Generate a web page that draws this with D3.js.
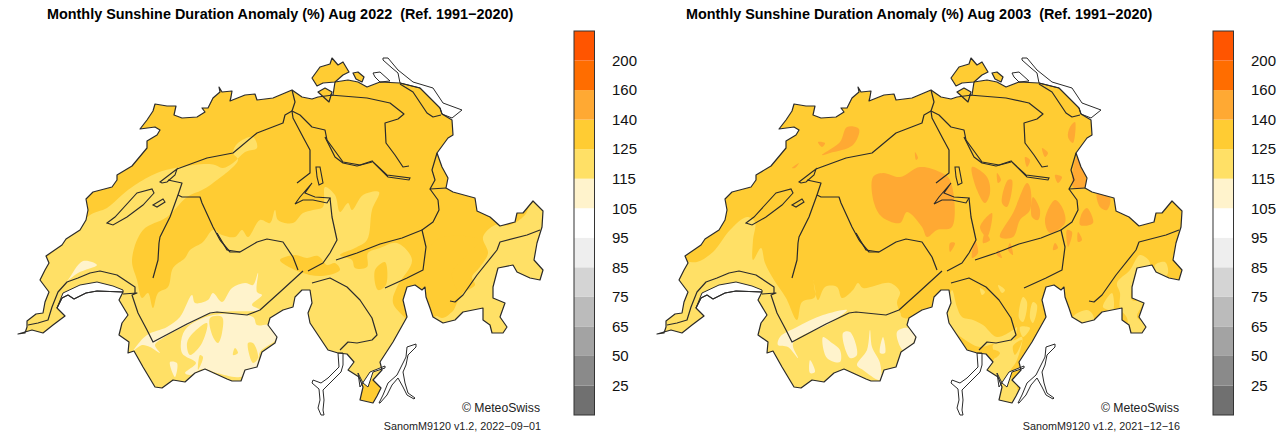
<!DOCTYPE html>
<html>
<head>
<meta charset="utf-8">
<script src="https://cdn.jsdelivr.net/npm/d3@7"></script>
<style>
body { margin: 0; background: #fff; }
text { font-family: "Liberation Sans", Arial, sans-serif; white-space: pre; }
</style>
</head>
<body>
<div id="chart"></div>
<script>
// colour classes, bottom to top of the legend
var levelLabels = [25, 50, 65, 75, 85, 95, 105, 115, 125, 140, 160, 200];
var levelColors = ["#707070", "#8a8a8a", "#a3a3a3", "#bbbbbb", "#d4d4d4", "#eeeeee", "#ffffff",
                   "#fff3cc", "#ffe066", "#ffcc33", "#ffa933", "#ff6d00", "#ff5500"];

// map outlines in map units
var country = [[18,334],[25,333],[27,327],[27,321],[36,314],[43,313],[45,302],[49,292],[40,280],[45,270],[49,263],[46,256],
  [62,245],[66,239],[80,230],[86,220],[88,210],[86,199],[93,192],[112,187],[117,180],[117,175],[132,166],[147,148],[147,141],
  [157,135],[160,130],[155,127],[140,129],[147,120],[153,111],[155,104],[167,106],[176,106],[174,115],[182,118],[197,117],
  [205,112],[202,108],[208,108],[213,98],[220,92],[219,87],[222,92],[232,91],[231,97],[230,101],[245,95],[255,94],[257,100],
  [273,98],[292,90],[302,97],[312,99],[318,97],[333,95],[335,82],[348,80],[358,82],
  [367,87],[380,82],[400,83],[420,88],[440,108],[442,114],[452,120],[453,135],[448,138],[437,153],[442,167],[448,178],[446,188],
  [453,192],[475,198],[477,211],[490,217],[500,226],[515,222],[517,213],[523,213],[533,201],[543,211],[542,227],[537,243],
  [534,260],[543,270],[540,280],[530,278],[517,272],[513,265],[498,268],[493,287],[493,298],[505,303],[500,317],[507,327],
  [503,333],[492,333],[490,325],[483,320],[483,308],[463,312],[455,320],[443,323],[433,317],[430,308],[426,297],[425,287],
  [422,290],[415,285],[407,287],[403,300],[407,317],[393,342],[380,362],[382,370],[373,380],[381,388],[377,396],[373,403],
  [360,400],[363,387],[359,377],[348,370],[354,362],[347,354],[338,353],[328,350],[310,323],[308,313],[312,303],[310,290],
  [302,290],[295,297],[293,307],[283,310],[270,318],[268,325],[277,337],[275,343],[262,352],[257,367],[245,370],[241,381],
  [232,381],[227,379],[205,369],[195,373],[185,382],[173,380],[162,388],[155,387],[143,367],[134,351],[128,353],[129,342],
  [119,335],[122,323],[128,315],[119,300],[123,292],[97,291],[86,293],[74,299],[68,295],[62,298],[57,308],[65,316],[53,325],
  [43,333],[32,330]];

var exclaves = [
  [[312,78],[320,67],[330,64],[332,58],[338,65],[343,62],[349,72],[343,75],[335,82],[323,83],[317,86]],
  [[353,73],[358,72],[364,77],[362,82],[356,79]],
  [[318,92],[325,88],[332,92],[329,102]]
];

var whiteLakes = [
  [[57,308],[63,293],[80,285],[97,282],[113,286],[123,290],[123,292],[97,291],[86,293],[74,299],[68,295],[62,298]],
  [[383,58],[388,58],[398,70],[413,82],[433,88],[443,103],[462,110],[452,118],[442,114],[440,108],[420,88],[400,83],[398,73],[392,68],[383,60]],
  [[373,73],[380,72],[390,81],[380,82],[375,77]],
  [[338,353],[339,367],[328,378],[321,383],[313,380],[312,383],[319,389],[320,400],[318,408],[321,415],[324,415],[323,410],[324,400],[323,390],[330,383],[341,372],[343,365],[343,353]],
  [[358,373],[360,387],[370,372],[385,366],[385,368],[373,372],[368,387],[363,383]],
  [[407,347],[406,357],[402,365],[397,375],[388,383],[383,395],[379,403],[380,403],[387,395],[392,385],[398,378],[403,387],[407,395],[414,399],[415,398],[408,393],[405,383],[403,372],[406,365],[408,355],[416,347],[416,344]]
];

var innerLakes = [
  [[107,223],[115,217],[137,193],[152,189],[154,193],[143,205],[127,217],[113,225]],
  [[153,205],[163,199],[165,202],[157,207]],
  [[160,182],[173,172],[177,169],[175,175],[167,182],[162,183]],
  [[316,167],[320,167],[323,183],[319,185],[317,177]],
  [[295,204],[300,197],[312,183],[305,193],[315,197],[330,198],[327,203],[313,200],[303,200]],
  [[372,161],[387,175],[410,178],[409,180],[388,177],[374,163]]
];

var borders = [
  [[135,293],[135,287],[117,275],[100,271],[90,273],[78,278],[67,282],[58,292],[52,307],[48,320],[38,323],[28,325]],
  [[123,294],[137,293],[132,295],[138,313],[147,330],[153,342],[187,324],[210,313],[217,312],[247,315],[260,310],[280,292],[303,271]],
  [[177,169],[207,158],[233,153],[257,133],[283,123],[285,115],[292,111],[300,115],[312,127],[325,130],[327,140],[343,162],[360,165],[372,161]],
  [[325,137],[335,157],[343,163],[357,166],[372,162]],
  [[292,90],[295,102],[292,111],[293,118],[303,137],[310,150],[310,173],[297,183]],
  [[330,198],[332,217],[337,240],[330,253],[323,263],[308,271]],
  [[330,95],[367,98],[390,103],[404,114],[398,119],[385,123],[386,143],[395,155],[403,167],[409,166]],
  [[400,84],[413,92],[427,113],[433,117],[441,115]],
  [[437,153],[432,170],[435,180],[430,189],[446,188]],
  [[430,189],[438,200],[439,210],[433,222],[422,230],[426,247],[423,270],[407,278],[385,288]],
  [[336,260],[357,253],[380,244],[402,238],[422,230]],
  [[540,230],[527,235],[500,242],[497,250],[477,275],[463,295],[455,302],[450,301]],
  [[312,283],[330,278],[347,287],[360,300],[372,318],[377,335],[372,340],[357,343],[348,342],[340,350]],
  [[217,233],[227,250],[240,252],[257,242],[267,239],[283,242],[293,257],[298,270]],
  [[220,240],[230,252],[240,252]],
  [[168,180],[182,183],[178,195],[182,197],[200,197],[202,203],[213,227],[220,240]],
  [[178,195],[170,217],[160,237],[159,243],[158,260],[153,278]]
];

// contour patches, drawn in this order over the base colour
var lightPatches2022 = [
  [[66,240],[90,215],[107,208],[122,195],[135,185],[157,173],[175,168],[207,164],[215,165],[223,168],[233,163],[245,152],[257,148],[253,137],[238,143],[233,153],[238,160],[213,183],[202,190],[187,197],[167,217],[143,230],[132,260],[137,280],[142,298],[148,293],[153,308],[158,293],[168,287],[173,268],[185,258],[190,250],[203,242],[213,230],[222,235],[235,237],[242,230],[248,237],[260,220],[270,223],[275,210],[278,220],[293,223],[303,213],[313,210],[323,207],[325,187],[335,195],[340,212],[348,203],[352,210],[363,195],[379,192],[372,210],[367,240],[355,248],[340,255],[352,260],[355,268],[367,267],[368,253],[380,248],[397,243],[412,260],[397,287],[393,303],[420,340],[280,410],[20,350],[10,300]],
  [[483,237],[495,225],[510,225],[525,215],[533,200],[560,200],[560,345],[440,345],[434,318],[452,312],[457,303],[463,293],[475,285],[472,277],[480,267],[488,253]]
];
var paleBases2022 = [
  [[68,280],[83,261],[97,265],[78,273],[65,283]],
  [[135,348],[147,335],[167,327],[180,317],[192,295],[195,303],[208,300],[213,293],[222,302],[232,288],[245,283],[253,285],[258,273],[257,292],[262,295],[252,305],[260,310],[213,313],[187,325],[163,338],[155,345],[160,353],[150,347],[142,345],[133,351]],
  [[185,330],[213,315],[253,317],[257,325],[270,325],[277,338],[260,352],[257,367],[240,377],[217,373],[203,369],[190,375],[185,373],[196,363],[182,353]],
  [[170,362],[177,363],[175,377]]
];
var lightOverPale2022 = [
  [[210,318],[222,317],[222,333],[218,343],[213,337]],
  [[193,333],[207,323],[202,343],[190,355],[187,343]],
  [[248,343],[253,343],[258,358],[253,363]],
  [[235,348],[238,353],[233,355]],
  [[200,355],[203,357],[198,370]]
];
var darkOverLight2022 = [
  [[280,260],[295,255],[307,258],[318,256],[327,265],[335,263],[340,270],[322,276],[300,272]],
  [[375,270],[385,262],[386,285],[378,290]],
  [[436,240],[480,240],[470,252],[452,273],[457,293],[453,310],[442,318],[432,310],[425,280]]
];

var lightPatches2003 = [
  [[108,217],[116,222],[114,240],[114,260],[122,248],[126,263],[135,280],[147,298],[158,320],[163,302],[176,297],[174,280],[179,300],[186,287],[198,287],[203,298],[214,290],[219,283],[224,288],[251,283],[261,292],[258,303],[266,318],[278,315],[290,325],[300,400],[40,400],[10,340],[10,290],[30,275],[44,262],[58,262],[74,252],[91,230]],
  [[313,290],[318,307],[323,317],[334,320],[344,325],[358,337],[374,330],[378,327],[373,342],[358,343],[341,347],[331,343],[311,327],[308,317]],
  [[354,345],[376,340],[383,337],[378,360],[371,373],[378,387],[378,410],[359,405],[348,370],[356,357]],
  [[384,297],[388,302],[384,322],[380,318]],
  [[394,302],[398,305],[394,323],[391,318]],
  [[341,288],[346,292],[343,295]],
  [[359,285],[366,290],[363,293]],
  [[381,327],[391,328],[384,337]],
  [[434,317],[448,310],[454,315],[454,325],[438,325]],
  [[464,307],[473,293],[474,310]],
  [[478,283],[491,270],[501,255],[511,263],[494,285],[493,300],[504,302],[498,317],[510,327],[503,336],[491,336],[488,318],[481,308],[481,293]],
  [[516,265],[526,262],[529,273],[524,278],[518,273]]
];
var basePatches2003 = [
  [[374,346],[383,340],[376,355]],
  [[354,350],[361,353],[356,358]],
  [[266,306],[274,310],[270,318],[262,316]]
];
var palePatches2003 = [
  [[141,337],[158,327],[184,315],[208,310],[191,323],[154,343],[159,358],[149,347],[139,345]],
  [[184,337],[188,358],[201,362],[201,350],[193,343]],
  [[204,333],[211,332],[218,355],[211,358]],
  [[231,330],[233,347],[241,363],[241,380],[224,370],[218,365],[228,350]],
  [[244,337],[246,353],[241,353]],
  [[258,332],[269,328],[276,337],[271,347],[264,350]],
  [[171,360],[176,372],[171,373]]
];
var orangePatches2003 = [
  [[234,177],[244,173],[261,177],[281,167],[301,172],[311,180],[313,227],[298,230],[288,237],[283,227],[268,212],[261,223],[243,217],[235,203]],
  [[183,155],[201,142],[208,127],[220,129],[214,145],[191,153]],
  [[179,142],[186,143],[183,147]],
  [[153,168],[160,163],[156,168]],
  [[276,152],[279,158],[277,160]],
  [[333,167],[348,177],[351,193],[346,203],[338,190]],
  [[358,173],[362,180],[359,183]],
  [[369,180],[373,180],[368,207],[363,203]],
  [[388,183],[391,187],[391,210],[381,220],[374,237],[361,237],[374,213]],
  [[394,197],[401,210],[399,220],[393,217]],
  [[406,220],[416,200],[423,207],[426,223],[411,233]],
  [[416,175],[423,177],[419,183]],
  [[403,148],[409,153],[406,157]],
  [[386,157],[391,160],[388,167]],
  [[431,127],[436,122],[434,143],[429,137]],
  [[438,157],[446,173],[446,187],[434,187]],
  [[458,193],[471,198],[468,210],[461,207]],
  [[448,208],[454,223],[441,225],[443,213]],
  [[341,227],[353,213],[348,237]],
  [[311,243],[316,243],[311,252]],
  [[336,240],[339,253],[333,258]],
  [[346,233],[351,240],[344,243]],
  [[371,243],[374,255],[369,250]],
  [[416,243],[419,248],[414,250]],
  [[428,230],[433,232],[429,247]],
  [[439,232],[443,240],[439,242]],
  [[359,250],[363,258],[358,255]]
];

// colour index: 7 pale, 8 light, 9 base, 10 orange
var panels = [
  { left: 0, title: "Monthly Sunshine Duration Anomaly (%) Aug 2022  (Ref. 1991\u22122020)",
    stamp: "SanomM9120 v1.2, 2022\u221209\u221201",
    layers: [[8, lightPatches2022], [9, darkOverLight2022], [7, paleBases2022], [8, lightOverPale2022]] },
  { left: 639, title: "Monthly Sunshine Duration Anomaly (%) Aug 2003  (Ref. 1991\u22122020)",
    stamp: "SanomM9120 v1.2, 2021\u221212\u221216",
    layers: [[8, lightPatches2003], [9, basePatches2003], [7, palePatches2003], [10, orangePatches2003]] }
];

var svg = d3.select("#chart").append("svg").attr("width", 1280).attr("height", 438);
var y = d3.scaleLinear().domain([0, 438]).range([0, 438]);
var land = [country].concat(exclaves);

panels.forEach(function(p, i) {
    var x = d3.scaleLinear().domain([0, 640]).range([p.left, p.left + 640]);
    var line = d3.line().x(function(d) { return x(d[0]); }).y(function(d) { return y(d[1]); });
    var closed = d3.line().x(function(d) { return x(d[0]); }).y(function(d) { return y(d[1]); }).curve(d3.curveLinearClosed);
    var smooth = d3.line().x(function(d) { return x(d[0]); }).y(function(d) { return y(d[1]); }).curve(d3.curveCatmullRomClosed.alpha(0.5));
    var g = svg.append("g");

    g.append("clipPath").attr("id", "clip" + i).selectAll("path").data(land).enter().append("path").attr("d", closed);

    g.append("text").attr("x", p.left + 47).attr("y", 19)
        .attr("font-size", 14.4).attr("font-weight", "bold").text(p.title);

    var map = g.append("g").attr("clip-path", "url(#clip" + i + ")");
    map.selectAll(null).data(land).enter().append("path").attr("d", closed).attr("fill", levelColors[9]);
    p.layers.forEach(function(layer) {
        map.selectAll(null).data(layer[1]).enter().append("path")
            .attr("d", function(d) { return smooth(d); })
            .attr("fill", levelColors[layer[0]]);
    });

    g.selectAll(null).data(whiteLakes).enter().append("path")
        .attr("d", closed).attr("fill", "#fff").attr("stroke", "#2b2b2b").attr("stroke-width", 1);
    g.selectAll(null).data(land).enter().append("path").attr("d", closed).attr("fill", "none")
        .attr("stroke", "#2b2b2b").attr("stroke-width", 1.2).attr("stroke-linejoin", "round");
    g.selectAll(null).data(innerLakes).enter().append("path")
        .attr("d", closed).attr("fill", "none").attr("stroke", "#2b2b2b").attr("stroke-width", 1.1);
    g.selectAll(null).data(borders).enter().append("path")
        .attr("d", line).attr("fill", "none").attr("stroke", "#2b2b2b").attr("stroke-width", 1.2)
        .attr("stroke-linejoin", "round");

    // legend bar
    var barX = p.left + 574;
    var barScale = d3.scaleLinear().domain([0, levelColors.length]).range([415, 31]);
    g.selectAll(null).data(levelColors).enter().append("rect")
        .attr("x", barX).attr("width", 20.5)
        .attr("y", function(d, k) { return barScale(k + 1); })
        .attr("height", function(d, k) { return barScale(k) - barScale(k + 1); })
        .attr("fill", function(d) { return d; });
    g.append("rect").attr("x", barX).attr("y", barScale(levelColors.length)).attr("width", 20.5)
        .attr("height", barScale(0) - barScale(levelColors.length))
        .attr("fill", "none").attr("stroke", "#333").attr("stroke-width", 1);

    var axis = d3.axisRight(barScale)
        .tickValues(d3.range(1, levelColors.length))
        .tickSize(0).tickPadding(17.5)
        .tickFormat(function(k) { return levelLabels[k - 1]; });
    var ag = g.append("g").attr("transform", "translate(" + (barX + 20.5) + ",0)").call(axis);
    ag.select(".domain").remove();
    ag.selectAll("text").attr("font-size", 15).attr("fill", "#111")
        .style("font-family", '"Liberation Sans", Arial, sans-serif');

    g.append("text").attr("x", p.left + 540).attr("y", 412).attr("text-anchor", "end")
        .attr("font-size", 12.2).attr("fill", "#222").text("\u00a9 MeteoSwiss");
    g.append("text").attr("x", p.left + 541).attr("y", 429.5).attr("text-anchor", "end")
        .attr("font-size", 10.8).attr("fill", "#222").text(p.stamp);
});
</script>
</body>
</html>
